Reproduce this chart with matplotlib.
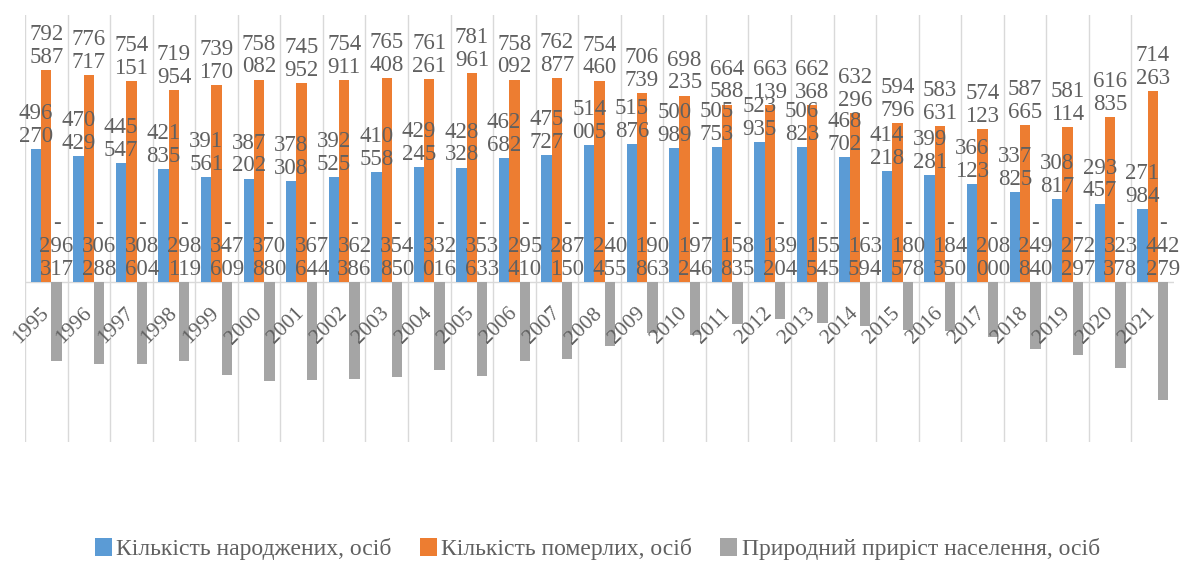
import matplotlib
matplotlib.use("Agg")
import matplotlib.pyplot as plt
import numpy as np

years = ["1995", "1996", "1997", "1998", "1999", "2000", "2001", "2002", "2003",
         "2004", "2005", "2006", "2007", "2008", "2009", "2010", "2011", "2012",
         "2013", "2014", "2015", "2016", "2017", "2018", "2019", "2020", "2021"]
births = [496270, 470429, 445547, 421835, 391561, 387202, 378308, 392525, 410558,
          429245, 428328, 462682, 475727, 514005, 515876, 500989, 505753, 523935,
          506823, 468702, 414218, 399281, 366123, 337825, 308817, 293457, 271984]
deaths = [792587, 776717, 754151, 719954, 739170, 758082, 745952, 754911, 765408,
          761261, 781961, 758092, 762877, 754460, 706739, 698235, 664588, 663139,
          662368, 632296, 594796, 583631, 574123, 587665, 581114, 616835, 714263]
natural = [-296317, -306288, -308604, -298119, -347609, -370880, -367644, -362386, -354850,
           -332016, -353633, -295410, -287150, -240455, -190863, -197246, -158835, -139204,
           -155545, -163594, -180578, -184350, -208000, -249840, -272297, -323378, -442279]
series_names = ["Кількість народжених, осіб", "Кількість померлих, осіб",
                "Природний приріст населення, осіб"]
colors = ["#5B9BD5", "#ED7D31", "#A5A5A5"]

plt.rcParams['font.family'] = ['Liberation Serif', 'DejaVu Serif']
txt_color = "#606060"

fig = plt.figure(figsize=(11.83, 5.65), dpi=100)
ax = fig.add_axes([25 / 1183, 1 - 442 / 565, 1149 / 1183, 427 / 565])

n = len(years)
x = np.arange(n)
w = 0.242

def fmt(v):
    s = f"{abs(v):,}".replace(",", "\n")
    return ("-\n" + s) if v < 0 else s

for k, (vals, off) in enumerate(zip([births, deaths, natural], [-w, 0, w])):
    ax.bar(x + off, vals, width=w, color=colors[k], label=series_names[k], zorder=2)
    for xi, v in zip(x + off, vals):
        base = v if v >= 0 else 0
        ax.annotate(fmt(v), (xi, base), xytext=(0, 1.5), textcoords="offset points",
                    ha="center", va="bottom", fontsize=16.5, color=txt_color,
                    linespacing=1.12, zorder=4)

ax.set_xlim(-0.5, n - 0.5)
ax.set_ylim(-600000, 1000000)

for i in range(n):
    ax.axvline(i - 0.5, color="#D9D9D9", lw=1, zorder=1)
ax.axhline(0, color="#D9D9D9", lw=1, zorder=1)

for i, yr in enumerate(years):
    ax.text(i + 0.0, -108000, yr, rotation=45, rotation_mode="anchor",
            ha="right", va="center", fontsize=15.5, color=txt_color, zorder=3)

ax.set_xticks([])
ax.set_yticks([])
for s in ax.spines.values():
    s.set_visible(False)

leg = fig.legend(loc="center", bbox_to_anchor=(0.505, 1 - 549 / 565), ncol=3,
                 frameon=False, fontsize=17, handlelength=0.7, handleheight=0.8,
                 handletextpad=0.2, columnspacing=1.2)
for t in leg.get_texts():
    t.set_color(txt_color)

fig.savefig("out.png", dpi=100)
